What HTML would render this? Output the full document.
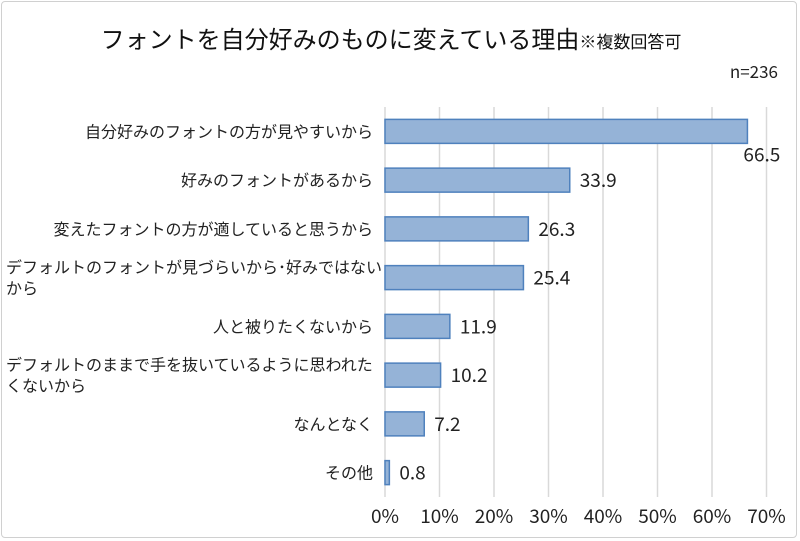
<!DOCTYPE html>
<html><head><meta charset="utf-8"><style>
body{margin:0;width:800px;height:541px;background:#fff;overflow:hidden;font-family:"Noto Sans CJK JP",sans-serif;}
#frame{position:absolute;left:1px;top:1px;width:796px;height:537px;border:1px solid #d0d0d0;border-radius:4px;box-sizing:border-box;}
text{font-family:"Noto Sans CJK JP","Liberation Sans",sans-serif;}
</style></head><body>
<div id="frame"></div>
<svg id="chart" width="800" height="541" style="position:absolute;left:0;top:0">
<text x="391" y="48" text-anchor="middle" font-size="24" fill="#111">フォントを自分好みのものに変えている理由<tspan font-size="17">※複数回答可</tspan></text>
<text x="778" y="78" text-anchor="end" font-size="17" fill="#222">n=236</text>
</svg>
<script>
const categories=[["自分好みのフォントの方が見やすいから"],["好みのフォントがあるから"],["変えたフォントの方が適していると思うから"],["デフォルトのフォントが見づらいから･好みではない","から"],["人と被りたくないから"],["デフォルトのままで手を抜いているように思われた","くないから"],["なんとなく"],["その他"]];
const values=[66.5,33.9,26.3,25.4,11.9,10.2,7.2,0.8];
const ticks=[0,10,20,30,40,50,60,70];
const tickLabels=["0%","10%","20%","30%","40%","50%","60%","70%"];
const svg=document.getElementById('chart');
const NS='http://www.w3.org/2000/svg';
const x0=385,pxPer=5.45,top0=107,bandH=48.75;
const xs=v=>x0+v*pxPer;
const yc=i=>top0+bandH*(i+0.5);
function mk(t,a){const e=document.createElementNS(NS,t);for(const k in a)e.setAttribute(k,a[k]);svg.appendChild(e);return e;}
ticks.forEach((t,i)=>{
 const g=mk('line',{x1:xs(t),x2:xs(t),y1:top0,y2:top0+bandH*8,stroke:'#d9d9d9','stroke-width':1.5});
 
 
 const l=mk('text',{x:xs(t),y:523,'text-anchor':'middle','font-size':19,fill:'#222'});
 l.textContent=tickLabels[i];
 
 
});
values.forEach((v,i)=>{
 const c=yc(i);
 const b=mk('rect',{x:x0,y:c-12,width:xs(v)-x0,height:24,fill:'#95b3d7',stroke:'#4f81bd','stroke-width':1.5});
 
 
 const lines=categories[i];
 lines.forEach((s,j)=>{
  const multi=lines.length>1;
  const t=mk('text',{x:multi?6:373,y:c+6+(j-(lines.length-1)/2)*21,'text-anchor':multi?'start':'end','font-size':16,fill:'#222'});
  t.textContent=s;
  
  
 });
 let lx=xs(v)+10,ly=c+7;
 if(v>60){lx=xs(v)-4;ly=c+30;}
 const d=mk('text',{x:lx,y:ly,'font-size':19,fill:'#222'});
 d.textContent=v.toFixed(1);
 
 
});
</script>
</body></html>
